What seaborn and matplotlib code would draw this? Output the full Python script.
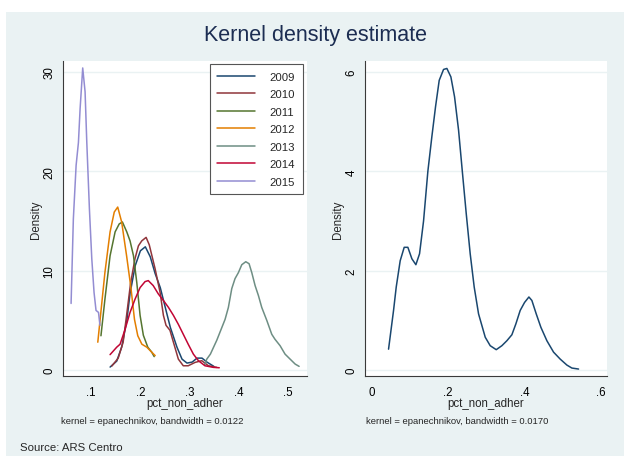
import numpy as np
import pandas as pd
import matplotlib
matplotlib.use("Agg")
import matplotlib.pyplot as plt
import seaborn as sns
from matplotlib.patches import Rectangle
from matplotlib.lines import Line2D

# ---------------- data ----------------
years = ["2009", "2010", "2011", "2012", "2013", "2014", "2015"]

x_2009 = [0.1386, 0.152, 0.162, 0.1725, 0.179, 0.1895, 0.200, 0.210, 0.220, 0.230, 0.2403,
          0.2505, 0.2607, 0.2742, 0.2844, 0.2946, 0.305, 0.315, 0.325, 0.335, 0.349]
y_2009 = [0.3, 0.9, 2.3, 5.0, 7.7, 10.5, 12.0, 12.4, 11.4, 9.7, 8.3,
          6.3, 4.3, 2.3, 1.1, 0.7, 0.8, 1.2, 1.2, 0.8, 0.37]

x_2010 = [0.142, 0.155, 0.165, 0.172, 0.180, 0.189, 0.196, 0.2028, 0.2116, 0.218, 0.2298,
          0.240, 0.2467, 0.252, 0.260, 0.267, 0.277, 0.287, 0.297, 0.311, 0.3245, 0.338, 0.355]
y_2010 = [0.4, 1.2, 2.8, 5.5, 8.7, 11.2, 12.5, 13.0, 13.35, 12.6, 10.2,
          7.8, 5.5, 4.5, 4.0, 2.8, 1.1, 0.43, 0.43, 0.77, 0.94, 0.43, 0.27]

x_2011 = [0.120, 0.128, 0.1385, 0.1487, 0.157, 0.1635, 0.1724, 0.179, 0.186, 0.1927,
          0.1994, 0.206, 0.215, 0.223, 0.228]
y_2011 = [3.45, 7.1, 11.5, 13.9, 14.7, 14.9, 13.9, 13.0, 11.5, 8.8,
          5.5, 3.5, 2.3, 1.8, 1.35]

x_2012 = [0.1136, 0.128, 0.1385, 0.147, 0.154, 0.162, 0.172, 0.181, 0.188, 0.1947,
          0.203, 0.213, 0.223, 0.230]
y_2012 = [2.8, 9.8, 13.9, 15.9, 16.4, 14.9, 11.5, 8.2, 5.1, 3.45,
          2.6, 2.3, 1.8, 1.45]

x_2013 = [0.330, 0.3347, 0.342, 0.355, 0.3718, 0.3785, 0.3854, 0.392, 0.3988, 0.4057,
          0.4138, 0.4205, 0.426, 0.4327, 0.4394, 0.4462, 0.4564, 0.4665, 0.473, 0.4834,
          0.4935, 0.5037, 0.514, 0.522]
y_2013 = [0.5, 1.1, 1.6, 3.0, 5.1, 6.3, 8.2, 9.2, 9.8, 10.6,
          10.9, 10.7, 9.8, 8.5, 7.5, 6.3, 5.0, 3.6, 3.1, 2.45,
          1.6, 1.1, 0.6, 0.37]

x_2014 = [0.1385, 0.152, 0.1588, 0.169, 0.179, 0.1893, 0.1994, 0.2095, 0.216, 0.226,
          0.2365, 0.2467, 0.257, 0.267, 0.277, 0.287, 0.297, 0.3075, 0.3177, 0.331,
          0.348, 0.360]
y_2014 = [1.55, 2.3, 2.6, 4.1, 5.8, 7.15, 8.3, 8.9, 9.0, 8.5,
          7.65, 7.0, 6.3, 5.5, 4.6, 3.6, 2.6, 1.6, 0.94, 0.43,
          0.27, 0.23]

x_2015 = [0.0594, 0.064, 0.0696, 0.0743, 0.0777, 0.083, 0.0878, 0.0912, 0.0966, 0.1014,
          0.106, 0.110, 0.115, 0.118]
y_2015 = [6.7, 15.2, 20.6, 22.9, 26.3, 30.4, 28.0, 23.0, 16.2, 11.2,
          7.8, 6.0, 5.8, 4.5]

x_all = [0.0437, 0.0568, 0.0638, 0.0742, 0.0847, 0.0943, 0.1048, 0.1153, 0.1249, 0.1354,
         0.1467, 0.1572, 0.1668, 0.1764, 0.1878, 0.1965, 0.207, 0.2166, 0.2271, 0.2367,
         0.2472, 0.2576, 0.2681, 0.2795, 0.297, 0.310, 0.3258, 0.3406, 0.3537, 0.3668,
         0.3773, 0.3886, 0.400, 0.4114, 0.4192, 0.4306, 0.4428, 0.4585, 0.476, 0.4934,
         0.5109, 0.524, 0.5415]
y_all = [0.42, 1.2, 1.67, 2.2, 2.47, 2.47, 2.24, 2.12, 2.34, 3.0,
         4.0, 4.7, 5.3, 5.83, 6.05, 6.07, 5.9, 5.5, 4.83, 4.02,
         3.15, 2.34, 1.67, 1.13, 0.66, 0.49, 0.41, 0.49, 0.59, 0.71,
         0.93, 1.2, 1.36, 1.47, 1.4, 1.13, 0.86, 0.59, 0.36, 0.22,
         0.1, 0.04, 0.02]

left_xticks = [0.1, 0.2, 0.3, 0.4, 0.5]
left_xticklabels = [".1", ".2", ".3", ".4", ".5"]
left_yticks = [0, 10, 20, 30]
right_xticks = [0, 0.2, 0.4, 0.6]
right_xticklabels = ["0", ".2", ".4", ".6"]
right_yticks = [0, 2, 4, 6]

palette = ["#1a476f", "#90353b", "#55752f", "#e37e00", "#6e8e84", "#c10534", "#938dd2"]

series_x = [x_2009, x_2010, x_2011, x_2012, x_2013, x_2014, x_2015]
series_y = [y_2009, y_2010, y_2011, y_2012, y_2013, y_2014, y_2015]
frames = []
for yr, xs, ys in zip(years, series_x, series_y):
    frames.append(pd.DataFrame({"pct_non_adher": xs, "Density": ys, "year": yr}))
df_years = pd.concat(frames, ignore_index=True)
df_all = pd.DataFrame({"pct_non_adher": x_all, "Density": y_all})

# ---------------- style ----------------
sns.set_theme(style="white")
plt.rcParams["font.family"] = ["Liberation Sans", "DejaVu Sans"]

BG = "#eaf2f3"
AXC = "#3a3a3a"
W, H = 624, 460
fig = plt.figure(figsize=(W / 100, H / 100), dpi=100, facecolor="white")
fig.patches.append(Rectangle((6 / W, 1 - 457 / H), 1 - 6 / W, (457 - 13) / H,
                             transform=fig.transFigure, facecolor=BG,
                             edgecolor="none", zorder=-10))

ax1 = fig.add_axes([63 / W, 1 - 377 / H, 244 / W, 315 / H])
ax2 = fig.add_axes([365 / W, 1 - 377 / H, 242 / W, 315 / H])

sns.lineplot(data=df_years, x="pct_non_adher", y="Density", hue="year",
             palette=palette, hue_order=years, sort=False, estimator=None,
             lw=1.1, legend=False, ax=ax1)
sns.lineplot(data=df_all, x="pct_non_adher", y="Density", sort=False,
             estimator=None, color=palette[0], lw=1.1, legend=False, ax=ax2)

for ax, w in ((ax1, 244), (ax2, 242)):
    ax.set_facecolor("white")
    for s in ("top", "right"):
        ax.spines[s].set_visible(False)
    for s in ("left", "bottom"):
        ax.spines[s].set_color(AXC)
        ax.spines[s].set_linewidth(0.8)
    ax.tick_params(axis="both", which="both", direction="out", length=4,
                   width=0.8, color=AXC, labelsize=8.3, labelcolor="black", pad=3)
    ax.tick_params(axis="y", labelrotation=90, pad=1.5)
    ax.yaxis.grid(True, color=BG, lw=1.0)
    ax.xaxis.grid(False)
    ax.set_axisbelow(True)
    ax.set_xlabel("pct_non_adher", fontsize=8.3, va="center")
    ax.xaxis.set_label_coords(0.5, -(404 - 377) / 315)
    ax.set_ylabel("Density", fontsize=8.3, va="center")
    ax.yaxis.set_label_coords(-27 / w, 0.5)

ax1.set_xlim(0.043, 0.538)
ax1.set_ylim(-0.6, 31.1)
ax1.set_xticks(left_xticks)
ax1.set_xticklabels(left_xticklabels)
ax1.set_yticks(left_yticks)
ax1.set_yticklabels([str(t) for t in left_yticks], va="center")

ax2.set_xlim(-0.018, 0.616)
ax2.set_ylim(-0.12, 6.22)
ax2.set_xticks(right_xticks)
ax2.set_xticklabels(right_xticklabels)
ax2.set_yticks(right_yticks)
ax2.set_yticklabels([str(t) for t in right_yticks], va="center")

handles = [Line2D([0], [0], color=c, lw=1.1) for c in palette]
leg = ax1.legend(handles, years, loc="upper right", bbox_to_anchor=(0.982, 0.99),
                 borderaxespad=0, fontsize=8.2, handlelength=3.3, handletextpad=1.3,
                 labelspacing=0.66, borderpad=0.65, frameon=True, fancybox=False,
                 framealpha=1, edgecolor="#555555", facecolor="white")
leg.get_frame().set_linewidth(0.8)

fig.text(0.5 + 3 / W, 1 - 35 / H, "Kernel density estimate", ha="center", va="center",
         fontsize=15.5, color="#1c2d52")
fig.text(61 / W, 1 - 421 / H, "kernel = epanechnikov, bandwidth = 0.0122",
         ha="left", va="center", fontsize=6.8)
fig.text(366 / W, 1 - 421 / H, "kernel = epanechnikov, bandwidth = 0.0170",
         ha="left", va="center", fontsize=6.8)
fig.text(20 / W, 1 - 448 / H, "Source: ARS Centro", ha="left", va="center", fontsize=8.2)

fig.savefig("out.png", dpi=100, facecolor="white")
